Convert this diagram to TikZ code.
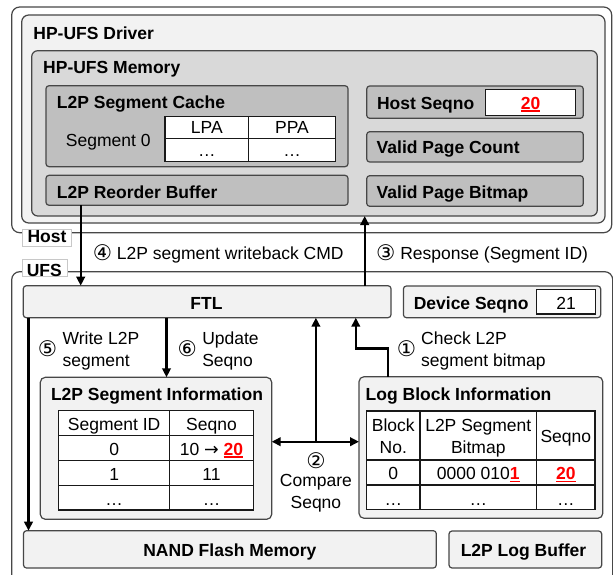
\documentclass[tikz,border=0pt]{standalone}
\usepackage{fontspec}
\setmainfont{Liberation Sans}
\newfontfamily\symf{DejaVu Sans}
\usetikzlibrary{arrows.meta}
\definecolor{bd}{HTML}{474747}
\definecolor{fa}{HTML}{F2F2F2}
\definecolor{fb}{HTML}{D9D9D9}
\definecolor{fc}{HTML}{BFBFBF}
\definecolor{lb}{HTML}{C8C8C8}
\newcommand\redul[1]{{\color{red}\bfseries\setbox0\hbox{#1}\rlap{\rule[-2.6pt]{\wd0}{1.4pt}}\box0}}
\newcommand\circd[1]{{\fontsize{21.5}{21}\symf\raisebox{-1.2pt}{#1}}}
\newcommand\mybox[6]{\node[bx,#2,minimum width={#5-#3},minimum height={#6-#4}] (#1) at (#3,#4) {};}
\begin{document}
\begin{tikzpicture}[x=1pt,y=-1pt,font=\fontsize{17.5}{21}\selectfont,
  bx/.style={draw=bd,line width=1.2pt,rounded corners=3pt,inner sep=0pt,outer sep=0pt,anchor=north west},
  tbl/.style={draw=black!90,line width=1.4pt,fill=white,rounded corners=0pt},
  lab/.style={draw=lb,line width=0.8pt,fill=white,rounded corners=0pt},
  tw/.style={inner sep=0pt,anchor=base west},
  tb/.style={inner sep=0pt,anchor=base west,font=\fontsize{17.5}{21}\selectfont\bfseries},
  tcn/.style={inner sep=0pt,anchor=base},
  tcb/.style={inner sep=0pt,anchor=base,font=\fontsize{17.5}{21}\selectfont\bfseries},
  tsy/.style={inner sep=0pt,anchor=center,font=\fontsize{21.5}{21}\symf},
  arr/.style={line width=2.4pt,-{Triangle[length=9pt,width=8.5pt]}},
  darr/.style={line width=2.4pt,{Triangle[length=9pt,width=8.5pt]}-{Triangle[length=9pt,width=8.5pt]}}]
\useasboundingbox (0,0) rectangle (613,575);
\clip (0,0) rectangle (613,575);
% ---------- Host side ----------
\mybox{host}{fill=white,rounded corners=8pt}{11.7}{7}{611.7}{232.7}
\mybox{drv}{fill=fa,rounded corners=7pt}{21.7}{15}{605}{223}
\mybox{mem}{fill=fb,rounded corners=6pt}{31.7}{50.7}{597.3}{216}
\mybox{cache}{fill=fc}{46}{85.7}{348}{166.7}
\mybox{reo}{fill=fc}{46}{175.3}{348}{205.3}
\mybox{hs}{fill=fc}{366.7}{86}{583.3}{118.3}
\mybox{hsv}{tbl}{485.5}{89.5}{575.7}{115.5}
\mybox{vpc}{fill=fc}{366.7}{131.7}{583.3}{162}
\mybox{vpb}{fill=fc}{366.7}{175.7}{583.3}{206.3}
\mybox{ctab}{tbl}{165}{116.3}{335.5}{161.7}
\coordinate (cx) at (248.6,0);
\coordinate (cy) at (0,138.7);
\draw[line width=1.4pt,black!90] (cx |- ctab.north) -- (cx |- ctab.south);
\draw[line width=1.4pt,black!90] (ctab.west |- cy) -- (ctab.east |- cy);
% ---------- UFS side ----------
\mybox{ufs}{fill=white,rounded corners=8pt}{11.7}{271.7}{612.7}{640}
\node[lab,minimum width=49pt,minimum height=17pt,inner sep=0pt,anchor=north west] (hostlab) at (21.7,228.5) {};
\node[lab,minimum width=45pt,minimum height=16.7pt,inner sep=0pt,anchor=north west] (ufslab) at (21.7,259.3) {};
\mybox{ftl}{fill=fa}{23.3}{285.7}{391}{317.7}
\mybox{ds}{fill=fa}{403.4}{286}{600.7}{317.7}
\mybox{dsv}{tbl}{536.7}{289.3}{595.7}{314}
\mybox{si}{fill=fa,rounded corners=5pt}{40.3}{377.3}{271.7}{519.3}
\mybox{lbi}{fill=fa,rounded corners=5pt}{359}{376.7}{602.8}{518.3}
\mybox{nand}{fill=fa}{23.5}{530.7}{436.3}{568}
\mybox{lbuf}{fill=fa}{449}{531}{601.7}{568}
% segment information table
\mybox{stab}{tbl}{58.6}{410.7}{253.3}{510}
\foreach \yy in {435.7,460.7,485.3} \draw[line width=1.4pt,black!90] (stab.west |- 0,\yy) -- (stab.east |- 0,\yy);
\draw[line width=1.4pt,black!90] (169.7,0 |- stab.north) -- (169.7,0 |- stab.south);
% log block table
\mybox{ltab}{tbl}{366.7}{411}{595}{509.5}
\foreach \yy in {460,485} \draw[line width=1.4pt,black!90] (ltab.west |- 0,\yy) -- (ltab.east |- 0,\yy);
\foreach \xx in {420,536.7} \draw[line width=1.4pt,black!90] (\xx,0 |- ltab.north) -- (\xx,0 |- ltab.south);
% ---------- arrows ----------
\coordinate (x4) at (80.7,0);
\coordinate (x3) at (364.7,0);
\coordinate (x5) at (28.5,0);
\coordinate (x6) at (166.5,0);
\coordinate (c2) at (315.9,441.7);
\coordinate (k1) at (388.2,348.3);
\coordinate (k2) at (355.8,348.3);
\draw[arr] (reo.south -| x4) -- (ftl.north -| x4);
\draw[arr] (ftl.north -| x3) -- (mem.south -| x3);
\draw[arr] (ftl.south -| x5) -- (nand.north -| x5);
\draw[arr] (ftl.south -| x6) -- (si.north -| x6);
\draw[arr] (c2) -- (ftl.south -| c2);
\draw[darr] (si.east |- c2) -- (lbi.west |- c2);
\draw[arr] (lbi.north -| k1) -- (k1) -- (k2) -- (ftl.south -| k2);
% ---------- texts ----------
\node[tb] (tdrv) at (33.2,39.3) {HP-UFS Driver};
\node[tb] (tmem) at (43,74) {HP-UFS Memory};
\node[tb] (tcache) at (56.7,108.3) {L2P Segment Cache};
\node[tw] (tseg0) at (65.7,146.7) {Segment 0};
\node[tcn] (tlpa) at (206.8,134) {LPA};
\node[tcn] (tppa) at (292,134) {PPA};
\node[tcn] (tcd1) at (206.8,156.7) {…};
\node[tcn] (tcd2) at (292,156.7) {…};
\node[tb] (treo) at (56.7,198.3) {L2P Reorder Buffer};
\node[tb] (ths) at (376.9,109.3) {Host Seqno};
\node[tcb] (ths20) at (530.6,109.3) {\redul{20}};
\node[tb] (tvpc) at (376.5,153.3) {Valid Page Count};
\node[tb] (tvpb) at (376.5,198.3) {Valid Page Bitmap};
\node[tb] (thost) at (27.4,242.3) {Host};
\node[tw] (t4) at (92.6,259.3) {\circd{④} L2P segment writeback CMD};
\node[tw] (t3) at (376,259.3) {\circd{③} Response (Segment ID)};
\node[tb] (tufs) at (26.6,276.7) {UFS};
\node[tcb] (tftl) at (206.4,309.3) {FTL};
\node[tb] (tds) at (413.6,309.3) {Device Seqno};
\node[tcn] (t21) at (566,309.3) {21};
\node[tsy] (c5) at (47.5,348.3) {⑤};
\node[tw] (t5a) at (62.5,344) {Write L2P};
\node[tw] (t5b) at (62.5,366) {segment};
\node[tsy] (c6) at (187.3,348.3) {⑥};
\node[tw] (t6a) at (202.1,344) {Update};
\node[tw] (t6b) at (202.1,366) {Seqno};
\node[tsy] (c1) at (406.4,348.3) {①};
\node[tw] (t1a) at (421,344) {Check L2P};
\node[tw] (t1b) at (421,366) {segment bitmap};
\node[tsy] (c2t) at (315.9,461) {②};
\node[tcn] (t2a) at (315.9,486.7) {Compare};
\node[tcn] (t2b) at (315.9,508.3) {Seqno};
\node[tb] (tsi) at (50.8,400.7) {L2P Segment Information};
\node[tb] (tlbi) at (365.5,400) {Log Block Information};
\node[tcn] (s11) at (114.2,430) {Segment ID};
\node[tcn] (s12) at (211.5,430) {Seqno};
\node[tcn] (s21) at (114.2,455) {0};
\node[tcn] (s22) at (211.5,455) {10 {\symf →} \redul{20}};
\node[tcn] (s31) at (114.2,480) {1};
\node[tcn] (s32) at (211.5,480) {11};
\node[tcn] (s41) at (114.2,505) {…};
\node[tcn] (s42) at (211.5,505) {…};
\node[tcn] (l11) at (393.3,431.7) {Block};
\node[tcn] (l11b) at (393.3,453.3) {No.};
\node[tcn] (l12) at (478.3,431.7) {L2P Segment};
\node[tcn] (l12b) at (478.3,453.3) {Bitmap};
\node[tcn] (l13) at (565.8,442.7) {Seqno};
\node[tcn] (l21) at (393.3,479.3) {0};
\node[tcn] (l22) at (478.3,479.3) {0000 010\redul{1}};
\node[tcn] (l23) at (565.8,479.3) {\redul{20}};
\node[tcn] (l31) at (393.3,505) {…};
\node[tcn] (l32) at (478.3,505) {…};
\node[tcn] (l33) at (565.8,505) {…};
\node[tcb] (tnand) at (229.9,556.7) {NAND Flash Memory};
\node[tcb] (tlbuf) at (523.5,556.7) {L2P Log Buffer};
\end{tikzpicture}
\end{document}
